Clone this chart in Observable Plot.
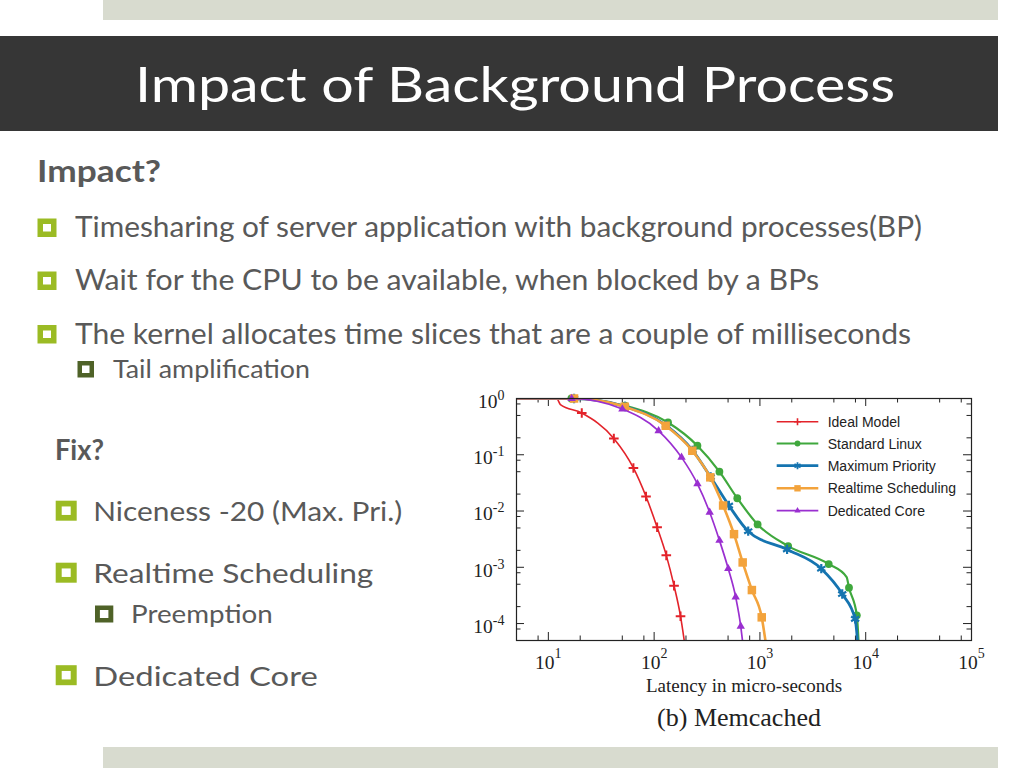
<!DOCTYPE html>
<html><head><meta charset="utf-8">
<script src="https://cdn.jsdelivr.net/npm/d3@7"></script>
<script src="https://cdn.jsdelivr.net/npm/@observablehq/plot@0.6"></script>
<style>
html,body{margin:0;padding:0;background:#fff;}
#page{position:relative;width:1024px;height:768px;overflow:hidden;}
#slide{position:absolute;left:0;top:0;}
#chart{position:absolute;left:460px;top:378px;}
#legend{position:absolute;left:0;top:0;pointer-events:none;}
</style></head>
<body><div id="page"><svg id="slide" width="1024" height="768"></svg><div id="chart"></div></div>
<script>
// ---------- slide texts ----------
const slideTitle = "Impact of Background Process";
const impactHead = "Impact?";
const impactBullets = [
  "Timesharing of server application with background processes(BP)",
  "Wait for the CPU to be available, when blocked by a BPs",
  "The kernel allocates time slices that are a couple of milliseconds"
];
const impactSub = "Tail amplification";
const fixHead = "Fix?";
const fixBullets = ["Niceness -20 (Max. Pri.)", "Realtime Scheduling", "Dedicated Core"];
const fixSub = "Preemption";
const chartCaption = "(b) Memcached";
const xLabel = "Latency in micro-seconds";

// ---------- chart data ----------
const seriesNames = ["Ideal Model", "Standard Linux", "Maximum Priority", "Realtime Scheduling", "Dedicated Core"];

const idealX = [5, 12, 13, 20.7, 41.6, 63.7, 83.8, 106.7, 130.3, 154.2, 177.6, 192.5];
const idealY = [1, 1, 0.78, 0.551, 0.195, 0.0583, 0.0181, 0.00516, 0.00163, 0.000472, 0.000135, 0.00005];
const idealMark = [0, 0, 0, 1, 1, 1, 1, 1, 1, 1, 1, 0];

const linuxX = [5, 16.5, 53.1, 135.3, 256.6, 414, 611, 951, 1849, 4470, 6600, 6950, 8240, 8550];
const linuxY = [1, 1, 0.743, 0.375, 0.145, 0.0501, 0.01687, 0.00577, 0.00238, 0.00114, 0.00067, 0.000435, 0.00014, 0.00005];
const linuxMark = [0, 1, 1, 1, 1, 1, 1, 1, 1, 1, 0, 1, 1, 0];

const maxX = [5, 17.5, 53, 129.5, 231, 342, 509, 775, 1806, 3802, 5998, 7945, 8360];
const maxY = [1, 1, 0.72, 0.333, 0.12, 0.0402, 0.01253, 0.00438, 0.002075, 0.000944, 0.000335, 0.000121, 0.00005];
const maxMark = [0, 1, 1, 1, 1, 1, 1, 1, 1, 1, 1, 1, 0];

const rtX = [5, 17.5, 52.7, 128.6, 229.6, 339.6, 448.8, 568.9, 687, 839.5, 1040, 1127];
const rtY = [1, 1, 0.713, 0.328, 0.118, 0.0397, 0.01253, 0.00388, 0.00122, 0.000394, 0.000129, 0.00005];
const rtMark = [0, 1, 1, 1, 1, 1, 1, 1, 1, 1, 1, 0];

const dcX = [5, 16.6, 50.1, 110.2, 181.6, 256.7, 335, 414.7, 502, 590, 659, 684];
const dcY = [1, 1, 0.649, 0.267, 0.0899, 0.0303, 0.00952, 0.003, 0.000944, 0.000296, 0.000089, 0.00005];
const dcMark = [0, 1, 1, 1, 1, 1, 1, 1, 1, 1, 1, 0];

const xDomain = [5, 100000];
const yDomain = [0.00005, 1];
const xMajor = [10, 100, 1000, 10000, 100000];
const yMajor = [0.0001, 0.001, 0.01, 0.1, 1];
const minorMultipliers = [2, 5, 8];

// ---------- styles ----------
const styles = [
  {color: "#e3232a", width: 1.6, symbol: "plus", r: 3.2, strokeSym: true, sw: 2},
  {color: "#3fa83d", width: 2.2, symbol: "circle", r: 3.9},
  {color: "#1574b0", width: 2.8, symbol: "asterisk", r: 4.4, strokeSym: true, sw: 2.2},
  {color: "#f3a33c", width: 2.6, symbol: "square", r: 4.8},
  {color: "#9a2fd0", width: 1.7, symbol: "triangle", r: 3.1}
];
const seriesXs = [idealX, linuxX, maxX, rtX, dcX];
const seriesYs = [idealY, linuxY, maxY, rtY, dcY];
const seriesMs = [idealMark, linuxMark, maxMark, rtMark, dcMark];

const rows = seriesNames.map((name, i) => seriesXs[i].map((x, j) => ({name, x, y: seriesYs[i][j], m: seriesMs[i][j]})));

// ---------- slide decoration ----------
const slide = d3.select("#slide");
const textColor = "#595959";
const green = "#9bbb24", olive = "#4f6228";
slide.append("rect").attr("x", 103).attr("y", 0).attr("width", 895).attr("height", 20).attr("fill", "#d8dbcf");
slide.append("rect").attr("x", 0).attr("y", 36).attr("width", 998).attr("height", 95).attr("fill", "#363636");
slide.append("rect").attr("x", 103).attr("y", 747).attr("width", 895).attr("height", 21).attr("fill", "#d8dbcf");

function txt(s, x, y, size, len, opt = {}) {
  const t = slide.append("text").attr("x", x).attr("y", y)
    .attr("font-family", opt.family || "Lato, 'Open Sans', sans-serif")
    .attr("font-size", size).attr("font-weight", opt.weight || 400)
    .attr("fill", opt.fill || textColor).text(s);
  if (opt.anchor) t.attr("text-anchor", opt.anchor);
  if (len) t.attr("textLength", len).attr("lengthAdjust", "spacingAndGlyphs");
  return t;
}
function bullet(x, y, w, h, color, iw, ih) {
  slide.append("rect").attr("x", x).attr("y", y).attr("width", w).attr("height", h).attr("fill", color);
  slide.append("rect").attr("x", x + (w - iw) / 2).attr("y", y + (h - ih) / 2).attr("width", iw).attr("height", ih).attr("fill", "#fff");
}

txt(slideTitle, 135, 102, 49, 760, {fill: "#ffffff"});
txt(impactHead, 37, 182, 30, 124, {weight: 700});
const impactBase = [237, 290, 343.5];
const impactLen = [847, 744, 836];
impactBullets.forEach((s, i) => {
  bullet(37.5, impactBase[i] - 18.5, 19, 18.5, green, 8, 7.5);
  txt(s, 75, impactBase[i], 28, impactLen[i]);
});
bullet(77.5, 361, 16.5, 16.5, olive, 7.5, 7.5);
txt(impactSub, 113, 378, 24.5, 197);

txt(fixHead, 55, 459.5, 28, 49, {weight: 700});
const fixBase = [521, 583, 685.5];
const fixLen = [309, 280, 224.5];
fixBullets.forEach((s, i) => {
  bullet(55.7, fixBase[i] - 20.3, 21, 20, green, 9, 8.5);
  txt(s, 93.3, fixBase[i], 26.5, fixLen[i]);
});
bullet(95, 605.5, 18.3, 17, olive, 8.5, 8);
txt(fixSub, 131, 622.7, 24.5, 141.7);

txt(chartCaption, 739, 726, 26, null, {family: "'Liberation Serif', 'DejaVu Serif', serif", fill: "#222", anchor: "middle"});

// ---------- chart ----------
const W = 540, H = 323, mL = 56, mR = 29, mT = 20, mB = 61;
const fw = W - mL - mR, fh = H - mT - mB;
const ink = "#222";

function minorTicks(domain) {
  const out = [];
  const lo = Math.floor(Math.log10(domain[0])), hi = Math.ceil(Math.log10(domain[1]));
  for (let k = lo; k < hi; k++) for (const m of minorMultipliers) {
    const v = m * Math.pow(10, k);
    if (v > domain[0] * 1.001 && v < domain[1] * 0.999) out.push(v);
  }
  return out;
}
const xMinor = minorTicks(xDomain), yMinor = minorTicks(yDomain);
const majLen = 8, minLen = 4.5;

const marks = [
  Plot.tickX(xMajor, {x: d => d, insetBottom: fh - majLen, stroke: ink}),
  Plot.tickX(xMajor, {x: d => d, insetTop: fh - majLen, stroke: ink}),
  Plot.tickX(xMinor, {x: d => d, insetBottom: fh - minLen, stroke: ink}),
  Plot.tickX(xMinor, {x: d => d, insetTop: fh - minLen, stroke: ink}),
  Plot.tickY(yMajor, {y: d => d, insetRight: fw - majLen, stroke: ink}),
  Plot.tickY(yMajor, {y: d => d, insetLeft: fw - majLen, stroke: ink}),
  Plot.tickY(yMinor, {y: d => d, insetRight: fw - minLen, stroke: ink}),
  Plot.tickY(yMinor, {y: d => d, insetLeft: fw - minLen, stroke: ink})
];
rows.forEach((r, i) => {
  const s = styles[i];
  marks.push(Plot.line(r, {x: "x", y: "y", stroke: s.color, strokeWidth: s.width, curve: "monotone-x", clip: true}));
  const pts = r.filter(d => d.m);
  if (s.strokeSym) marks.push(Plot.dot(pts, {x: "x", y: "y", symbol: s.symbol, r: s.r, stroke: s.color, strokeWidth: s.sw, fill: "none"}));
  else marks.push(Plot.dot(pts, {x: "x", y: "y", symbol: s.symbol, r: s.r, fill: s.color, stroke: "none"}));
});
marks.push(
  Plot.frame({stroke: ink, strokeWidth: 1.2}),
  Plot.axisX({ticks: xMajor, tickSize: 0, tickPadding: 15, tickFormat: d => String(Math.round(Math.log10(d))), label: null}),
  Plot.axisY({ticks: yMajor, tickSize: 0, tickPadding: 12, dy: 3.2, tickFormat: d => String(Math.round(Math.log10(d))), label: null}),
  Plot.text([xLabel], {text: d => d, frameAnchor: "bottom", dy: 51, fontSize: 19, fill: ink})
);

const svg = Plot.plot({
  width: W, height: H, marginLeft: mL, marginRight: mR, marginTop: mT, marginBottom: mB,
  x: {type: "log", domain: xDomain},
  y: {type: "log", domain: yDomain},
  style: {fontFamily: "'Liberation Serif', 'DejaVu Serif', serif", fontSize: "19.5px", color: ink, background: "transparent", overflow: "visible"},
  marks
});
d3.select(svg).selectAll('g[aria-label="x-axis tick label"] text').each(function () {
  const e = this.textContent;
  const t = d3.select(this);
  t.text("10");
  t.append("tspan").attr("dy", -11).attr("font-size", 14).text(e);
});
d3.select(svg).selectAll('g[aria-label="y-axis tick label"] text').each(function () {
  const e = this.textContent;
  const t = d3.select(this);
  t.text("10");
  t.append("tspan").attr("dy", -8).attr("font-size", 14).text(e);
});
document.getElementById("chart").appendChild(svg);

// ---------- legend ----------
const symMap = {plus: d3.symbolPlus, circle: d3.symbolCircle, asterisk: d3.symbolAsterisk, square: d3.symbolSquare, triangle: d3.symbolTriangle};
const leg = d3.select("#chart").append("svg").attr("id", "legend").attr("width", W).attr("height", H);
const legRowY = [43.7, 65.5, 87.7, 110.3, 132.7];
seriesNames.forEach((name, i) => {
  const s = styles[i], y = legRowY[i];
  const g = leg.append("g");
  g.append("line").attr("x1", 316.7).attr("x2", 358.3).attr("y1", y).attr("y2", y).attr("stroke", s.color).attr("stroke-width", s.width);
  const rr = s.r * 0.75;
  const p = g.append("path").attr("transform", `translate(${337.5},${y})`)
    .attr("d", d3.symbol(symMap[s.symbol], Math.PI * rr * rr)());
  if (s.strokeSym) p.attr("fill", "none").attr("stroke", s.color).attr("stroke-width", s.sw * 0.8);
  else p.attr("fill", s.color);
  g.append("text").attr("x", 367.7).attr("y", y + 5).attr("font-family", "'Liberation Sans', Arial, sans-serif")
    .attr("font-size", 14).attr("fill", ink).text(name);
});
</script></body></html>
